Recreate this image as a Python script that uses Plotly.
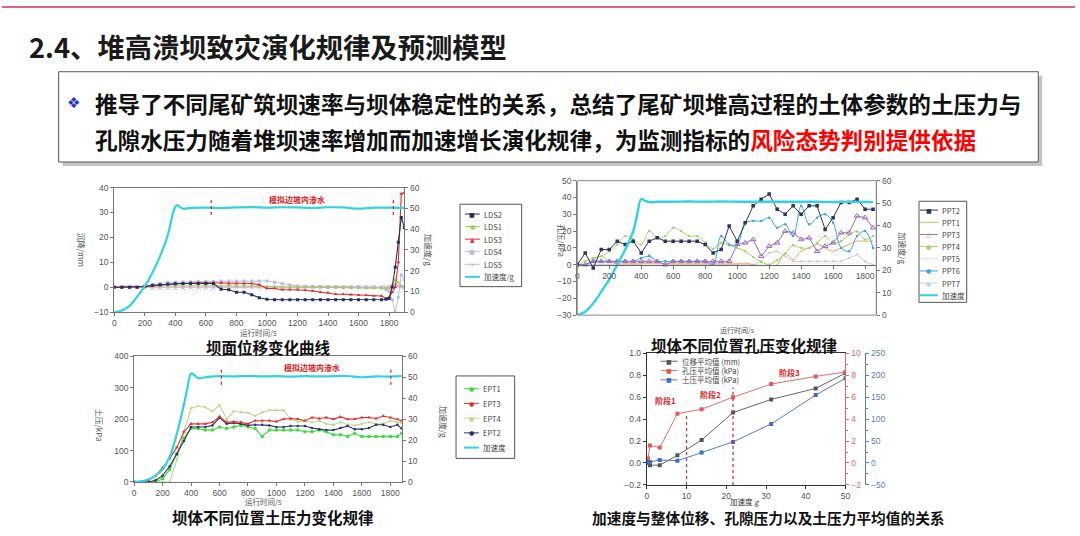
import plotly.graph_objects as go

W, H = 1080, 536
FONT = "Noto Sans CJK SC"
TICKFONT = dict(family="Liberation Sans, Noto Sans CJK SC", size=8.5, color="#555555")
RED_AX = "#e06a6a"
BLUE_AX = "#5a7fbf"
CYAN = "#2fd3e3"


def px(x):
    return x / W


def py(y):
    return 1 - y / H


# ---------------- data ----------------
time_ticks = [0, 200, 400, 600, 800, 1000, 1200, 1400, 1600, 1800]

# Chart A : dam-surface displacement (mm) + acceleration (g)
t_A = [0, 50, 100, 150, 200, 250, 300, 350, 400, 450, 500, 550, 600, 650, 700, 750, 800, 850,
       900, 950, 1000, 1050, 1100, 1150, 1200, 1250, 1300, 1350, 1400, 1450, 1500, 1550, 1600,
       1650, 1700, 1750, 1780, 1800, 1820, 1840, 1860, 1880, 1900]
LDS2 = [0, 0, 0, 0, 0.3, 0.8, 1.0, 1.2, 1.4, 1.5, 1.5, 1.5, 1.5, 1.5, -0.8, -1.0, -2.0, -2.0,
        -3.0, -4.2, -4.8, -5, -5, -5, -5, -5, -5, -5, -5, -5, -5, -5, -5, -5, -5, -5,
        -4.8, -4.5, 0, 8, 18, 28, 24]
LDS1 = [0, 0, 0, 0, 0.2, 0.4, 0.5, 0.6, 0.6, 0.6, 0.6, 0.6, 0.6, 0.6, 0.6, 0.6, 0.5, 0.5,
        0.5, 0.4, 0.3, 0.2, 0.1, 0, 0, 0, 0, 0, -0.2, -0.2, -0.3, -0.3, -0.3, -0.4, -0.4, -0.5,
        -0.5, -0.3, 1, 3, 2, 0.5, 0.2]
LDS3 = [0, 0, 0, 0, 0.2, 0.5, 0.8, 1.2, 1.5, 1.5, 1.8, 1.8, 1.8, 1.8, 1.8, 1.5, 1.5, 1.5,
        1.5, 1.0, -0.5, -0.5, -1.0, -1.0, -1.0, -1.2, -1.5, -2.0, -2.2, -2.8, -2.8, -3.0, -3.2,
        -3.2, -3.5, -3.5, -4.5, -4.0, -2.0, 0, 10, 37.5, 38]
LDS4 = [0, 0, 0, 0, 0.5, 1.0, 1.5, 2.0, 2.0, 2.2, 2.2, 2.3, 2.3, 2.3, 2.5, 2.5, 2.5, 2.5,
        2.5, 2.5, 2.5, 2.0, 1.5, 1.0, 0.5, 0.4, 0.3, 0.3, 0.3, 0.3, 0.2, 0.2, 0.2, 0.1, 0.1, 0,
        -1.0, -1.5, -5, -10, -4, 5, 3]
LDS5 = [0, 0, 0, 0, -0.2, -0.3, -0.3, -0.3, -0.3, -0.3, -0.2, -0.2, -0.2, -0.2, 0, 0, 0, 0,
        0, 0, 0, 0, 0, 0, 0, 0, 0, 0, 0, 0, 0, 0, 0, 0, 0, 0,
        0, 0, 0.5, 1, 0.5, 0, 0]
t_acc_A = [0, 50, 100, 150, 200, 250, 300, 350, 390, 410, 450, 500, 600, 700, 800, 900, 1000,
           1100, 1200, 1300, 1400, 1500, 1600, 1700, 1800, 1900]
acc_A = [0, 0.8, 3, 7.5, 12.5, 19, 27, 37, 49, 51.5, 49.8, 50.2, 50.3, 50.2, 50.4, 50.6, 50.3,
         50.5, 50.4, 50.2, 50.5, 50.4, 49.8, 50.3, 50.3, 50.2]
seep_A = [635, 1828]

# Chart B : pore pressure (kPa) + acceleration (g)
t_B = [0, 50, 100, 150, 200, 250, 300, 350, 400, 450, 500, 550, 600, 650, 700, 750, 800, 850,
       900, 950, 1000, 1050, 1100, 1150, 1200, 1250, 1300, 1350, 1400, 1450, 1500, 1550, 1600,
       1650, 1700, 1750, 1800, 1850]
PPT2 = [0, 7, -2, 9, 9, 14, 12, 14, 7, 14, 16, 14, 14, 14, 14, 14, 12, 7, 9, 23,
        14, 25, 35, 39, 42, 33, 30, 35, 30, 35, 35, 21, 28, 37, 37, 39, 33, 33]
PPT1 = [0, 0, 3, 5, 2, 0.5, 0.5, 0.5, 0.5, 0.5, 0.5, 0.5, 0.5, 0.5, 0.5, 0.5, 0.5, 0.5, 0.5, 0.5,
        0.5, 1, 0, -0.5, -0.5, 0, 7, 3, 8, 10, 12, 10, 8, 10, 12, 14, 14, 14]
PPT3 = [0, 0, 2, 2, 2, 2, 2, 2, 2, 2, 2, 0, 2, 2, 2, 2, 2, 2, 2, 2,
        12, 13, 15, 5, 11, 13, 20, 19, 15, 16, 8, 11, 13, 19, 19, 29, 28, 22]
PPT4 = [0, 2, 4, 5, 8, 12, 17, 15, 12, 20, 16, 17, 22, 20, 17, 17, 13, 9.5, 13, 11.5,
        10, 8, 4.6, 1.7, 0, 2.7, 6.6, 11.5, 10, 10, 13, 17, 13, 14, 17.7, 19.7, 15, 17]
PPT5 = [0, 0, 0, 1, 1, 1, 1, 1, 1, 1, 1, 1, 1, 1, 1, 1, 1, 1, 0, 0,
        0, 0, 0, 0, 1, 1, 1, 1, 1, 1, 1, 1, 1, 1, 1, 1, 1, 0]
PPT6 = [0, 0, 2, 2, 2, 2, 2, 2, 4, 5, 2, 2, 2, 2, 2, 2, 2, 0, 17, 12,
        12, 25, 26, 26, 28, 22, 24, 17, 35, 24, 28, 30, 25, 10, 8, 17, 20, 10]
PPT7 = [0, 0, 0, 0, 0, 0, 0, 0, 0, 6, 2, 0, 0, 0, 0, 0, 0, 0, 0, 0,
        0, 0, 0, 2, 7, 8, 5, 2, 2, 2, 2, 2, 2, 2, 4, 6, 2, 0]
t_acc_B = [0, 50, 100, 150, 200, 250, 300, 350, 375, 400, 425, 450, 500, 600, 700, 800, 900,
           1000, 1100, 1200, 1300, 1400, 1500, 1600, 1700, 1800, 1850]
acc_B = [0, 1.5, 5.3, 10.5, 15.8, 22.5, 29.3, 37.5, 45, 51.8, 51, 50.4, 50.6, 50.6, 50.7, 50.6,
         50.7, 50.6, 50.6, 50.6, 50.6, 50.6, 50.6, 50.5, 50.6, 50.5, 50.4]

# Chart C : earth pressure (kPa) + acceleration (g)
t_C = [0, 50, 100, 150, 200, 250, 300, 350, 400, 450, 500, 550, 600, 650, 700, 750, 800, 850,
       900, 950, 1000, 1050, 1100, 1150, 1200, 1250, 1300, 1350, 1400, 1450, 1500, 1550, 1600,
       1650, 1700, 1750, 1800, 1850, 1880]
EPT1 = [0, 0, 0, 0, 10, 40, 90, 140, 170, 170, 165, 165, 175, 170, 175, 180, 175, 170, 145, 165,
        165, 165, 165, 165, 160, 160, 165, 160, 150, 150, 145, 155, 145, 145, 145, 145, 145, 145, 155]
EPT3 = [0, 0, 5, 20, 45, 75, 110, 160, 185, 185, 185, 190, 208, 190, 192, 190, 185, 195, 195, 195,
        192, 200, 202, 200, 195, 205, 202, 205, 200, 207, 200, 200, 205, 205, 202, 210, 205, 200, 195]
EPT4 = [0, 0, 0, 0, 0, 0, 70, 160, 235, 242, 238, 225, 245, 200, 225, 222, 220, 210, 222, 228,
        228, 228, 200, 192, 195, 190, 195, 185, 182, 190, 182, 180, 185, 190, 185, 185, 195, 190, 188]
EPT2 = [0, 0, 0, 5, 20, 50, 88, 130, 175, 175, 175, 180, 205, 185, 188, 185, 180, 182, 182, 180,
        175, 175, 178, 178, 178, 172, 168, 165, 165, 172, 178, 168, 168, 172, 182, 182, 175, 182, 170]
t_acc_C = [0, 50, 100, 150, 200, 250, 300, 350, 375, 400, 425, 450, 500, 600, 700, 800, 900,
           1000, 1100, 1200, 1300, 1400, 1500, 1600, 1700, 1800, 1880]
acc_C = [0, 0.3, 1.2, 3, 6, 12, 23, 37, 45, 51.8, 51, 49.6, 50, 50.5, 50.4, 50.6, 50.4, 50.5,
         50.3, 50.5, 50.4, 50.5, 50.6, 50, 50.4, 50.3, 50.5]
seep_C = [613, 1804]

# Chart D : averages vs acceleration
acc_g = [0, 0.3, 0.8, 3.25, 7.7, 13.8, 21.7, 31.3, 42.5, 50]
disp_avg = [0.0, 0.0, -0.02, -0.02, 0.07, 0.21, 0.46, 0.58, 0.68, 0.82]
pore_avg = [0.1, 0.4, 1.6, 1.4, 4.5, 4.9, 6.0, 7.2, 7.9, 8.3]
earth_avg = [0, 2, 2, 7, 5, 24, 48, 89, 155, 193]
stage_bounds = [10, 21.7]
stage_labels = ["阶段1", "阶段2", "阶段3"]

# ---------------- figure ----------------
fig = go.Figure()


def add_series(x, y, xa, ya, color, width=1.0, symbol=None, msize=3, shape="linear", mline=None):
    mode = "lines+markers" if symbol else "lines"
    marker = dict(symbol=symbol or "circle", size=msize, color=color)
    if mline:
        marker["line"] = dict(color=color, width=1)
    fig.add_trace(go.Scatter(x=x, y=y, xaxis=xa, yaxis=ya, mode=mode,
                             line=dict(color=color, width=width, shape=shape),
                             marker=marker, showlegend=False, hoverinfo="skip"))


# A
add_series(t_A, LDS4, "x", "y", "#b4c2dc", 1, "square", 3)
add_series(t_A, LDS5, "x", "y", "#e0a0e0", 1, "x-thin-open", 4, mline=True)
add_series(t_A, LDS1, "x", "y", "#9bd05a", 1, "circle", 2.5)
add_series(t_A, LDS3, "x", "y", "#e8282a", 1.1, "triangle-up", 3.5)
add_series(t_A, LDS2, "x", "y", "#1f2f5f", 1.1, "square", 3)
add_series(t_acc_A, acc_A, "x", "y2", CYAN, 2.2, shape="spline")

# B
add_series(t_B, PPT5, "x2", "y3", "#ececec", 1)
add_series(t_B, PPT7, "x2", "y3", "#c8d2de", 1, "circle", 2.5)
add_series(t_B, PPT1, "x2", "y3", "#f4a460", 1, shape="spline")
add_series(t_B, PPT4, "x2", "y3", "#a4d46c", 1, "circle", 2.5, shape="spline")
add_series(t_B, PPT6, "x2", "y3", "#3aa6dc", 1, "circle", 2.5, shape="spline")
add_series(t_B, PPT3, "x2", "y3", "#9b6fc0", 1, "triangle-up-open", 5, mline=True)
add_series(t_B, PPT2, "x2", "y3", "#2a3560", 1, "square", 3.5)
add_series(t_acc_B, acc_B, "x2", "y4", CYAN, 2.4, shape="spline")

# C
add_series(t_C, EPT4, "x3", "y5", "#bcd98a", 1.1, "circle", 2.5)
add_series(t_C, EPT1, "x3", "y5", "#3ddc3d", 1.1, "square", 3)
add_series(t_C, EPT2, "x3", "y5", "#2c3366", 1.1, "circle", 2.5)
add_series(t_C, EPT3, "x3", "y5", "#e83030", 1.1, "triangle-up", 3.5)
add_series(t_acc_C, acc_C, "x3", "y6", CYAN, 2.2, shape="spline")

# D
add_series(acc_g, disp_avg, "x4", "y7", "#555555", 0.9, "square", 4)
add_series(acc_g, pore_avg, "x4", "y8", "#e05a5a", 0.9, "square", 4)
add_series(acc_g, earth_avg, "x4", "y9", "#3f6fc0", 0.9, "square", 4)


def ax(**kw):
    base = dict(showgrid=False, zeroline=False, showline=True, linecolor="#777777", linewidth=1,
                ticks="outside", ticklen=3, tickcolor="#777777", tickfont=TICKFONT, fixedrange=True)
    base.update(kw)
    return base


domB_y = [py(316), py(179)]
x2_pos = domB_y[0] + (0 - (-30)) / (50 - (-30)) * (domB_y[1] - domB_y[0])

fig.update_layout(
    width=W, height=H, autosize=False, margin=dict(l=0, r=0, t=0, b=0),
    paper_bgcolor="white", plot_bgcolor="white", showlegend=False,
    xaxis=ax(domain=[px(113), px(405)], anchor="y", range=[0, 1900], tickvals=time_ticks, mirror=True),
    yaxis=ax(domain=[py(313), py(186)], anchor="x", range=[-10, 40], dtick=10),
    yaxis2=ax(overlaying="y", side="right", anchor="x", range=[0, 60], dtick=10),
    xaxis2=ax(domain=[px(579), px(880)], anchor="free", position=x2_pos, range=[0, 1870],
              tickvals=time_ticks, linecolor="#666666"),
    yaxis3=ax(domain=domB_y, anchor="x2", range=[-30, 50], dtick=10),
    yaxis4=ax(overlaying="y3", side="right", anchor="x2", range=[0, 60], dtick=10),
    xaxis3=ax(domain=[px(133), px(403)], anchor="y5", range=[0, 1885], tickvals=time_ticks, mirror=True),
    yaxis5=ax(domain=[py(486), py(358)], anchor="x3", range=[0, 400], dtick=100),
    yaxis6=ax(overlaying="y5", side="right", anchor="x3", range=[0, 60], dtick=10),
    xaxis4=ax(domain=[px(649), px(849)], anchor="y7", range=[0, 50], dtick=10, mirror=True,
              linecolor="#333333", tickcolor="#333333"),
    yaxis7=ax(domain=[py(489), py(355)], anchor="x4", range=[-0.2, 1.0], dtick=0.2, tickformat=".1f",
              linecolor="#333333", tickcolor="#333333"),
    yaxis8=ax(overlaying="y7", side="right", anchor="x4", range=[-2, 10], dtick=2,
              linecolor=RED_AX, tickcolor=RED_AX, tickfont=dict(TICKFONT, color=RED_AX),
              minor=dict(ticks="outside", ticklen=2, tickcolor=RED_AX, dtick=1)),
    yaxis9=ax(overlaying="y7", side="right", anchor="free", position=px(869), range=[-50, 250], dtick=50,
              linecolor=BLUE_AX, tickcolor=BLUE_AX, tickfont=dict(TICKFONT, color=BLUE_AX),
              minor=dict(ticks="outside", ticklen=2, tickcolor=BLUE_AX, dtick=25)),
)

shapes = []
annos = []


def line_px(x0, y0, x1, y1, color, width=1, dash="solid"):
    shapes.append(dict(type="line", xref="paper", yref="paper", x0=px(x0), y0=py(y0), x1=px(x1), y1=py(y1),
                       line=dict(color=color, width=width, dash=dash)))


def rect_px(x0, y0, x1, y1, color, fill="rgba(0,0,0,0)", width=1):
    shapes.append(dict(type="rect", xref="paper", yref="paper", x0=px(x0), y0=py(y1), x1=px(x1), y1=py(y0),
                       line=dict(color=color, width=width), fillcolor=fill))


def text_px(x, y, text, size, color="#333333", xanchor="center", angle=0, family=FONT):
    annos.append(dict(xref="paper", yref="paper", x=px(x), y=py(y), text=text, showarrow=False,
                      xanchor=xanchor, yanchor="middle", textangle=angle, borderpad=0,
                      font=dict(family=family, size=size, color=color)))


# header
line_px(0, 2, W, 2, "#e8607a", 2)
text_px(26, 42, "<b>2.4、堆高溃坝致灾演化规律及预测模型</b>", 27.3, "#1a1a1a", "left")
shapes.append(dict(type="rect", xref="paper", yref="paper", x0=px(61), y0=py(164), x1=px(1047), y1=py(72),
                   line=dict(width=0), fillcolor="#c4c4c4"))
rect_px(57, 68, 1043, 160, "#555555", "white", 1)
text_px(72, 100, "❖", 15, "#2233cc", "center", family="DejaVu Sans")
text_px(93, 100, "<b>推导了不同尾矿筑坝速率与坝体稳定性的关系，总结了尾矿坝堆高过程的土体参数的土压力与</b>",
        22.6, "#111111", "left")
text_px(93, 137, "<b>孔隙水压力随着堆坝速率增加而加速增长演化规律，为监测指标的"
        "<span style='color:#ff0000'>风险态势判别提供依据</span></b>", 22.6, "#111111", "left")

# frame for chart B
shapes.append(dict(type="rect", xref="x2 domain", yref="y3 domain", x0=0, y0=0, x1=1, y1=1,
                   line=dict(color="#888888", width=1)))

# seepage markers and annotations
for t in seep_A:
    shapes.append(dict(type="line", xref="x", yref="paper", x0=t, x1=t, y0=py(214), y1=py(197),
                       line=dict(color="#e03030", width=1.3, dash="dot")))
for t in seep_C:
    shapes.append(dict(type="line", xref="x3", yref="paper", x0=t, x1=t, y0=py(387), y1=py(370),
                       line=dict(color="#e03030", width=1.3, dash="dot")))
text_px(297, 198, "<b>模拟边坡内渗水</b>", 8, "#e02020")
text_px(312, 369, "<b>模拟边坡内渗水</b>", 8, "#e02020")

for xb, ytop in zip(stage_bounds, [417, 390]):
    shapes.append(dict(type="line", xref="x4", yref="paper", x0=xb, x1=xb, y0=py(489), y1=py(ytop),
                       line=dict(color="#e03030", width=1.3, dash="dot")))
for lab, (lx, ly) in zip(stage_labels, [(668, 403), (713, 397), (793, 374)]):
    text_px(lx, ly, "<b>" + lab + "</b>", 8, "#e02020")

# axis titles
AXC = "#555555"
text_px(80, 250, "沉降/mm", 8, AXC, angle=90)
text_px(429, 250, "加速度/g", 8, AXC, angle=90)
text_px(258, 334, "运行时间/s", 7.5, AXC)
text_px(563, 240, "孔压/kPa", 8, AXC, angle=90)
text_px(906, 248, "加速度/g", 8, AXC, angle=90)
text_px(740, 331, "运行时间/s", 7, AXC)
text_px(99, 428, "土压/kPa", 8, AXC, angle=90)
text_px(445, 425, "加速度/g", 8, AXC, angle=90)
text_px(263, 506, "运行时间/s", 7.5, AXC)
text_px(748, 506, "加速度 <i>g</i>", 7.5, "#333333")

# captions
text_px(268, 349, "<b>坝面位移变化曲线</b>", 15.5, "#111111")
text_px(747, 346, "<b>坝体不同位置孔压变化规律</b>", 15.5, "#111111")
text_px(273, 522, "<b>坝体不同位置土压力变化规律</b>", 15.5, "#111111")
text_px(771, 522, "<b>加速度与整体位移、孔隙压力以及土压力平均值的关系</b>", 14.7, "#111111")


# legends (drawn manually)
def legend(box, lx0, lx1, tx, y0, step, entries):
    if box:
        rect_px(*box, "#555555", "white", 1)
    for i, (name, color, glyph, lw) in enumerate(entries):
        y = y0 + i * step
        line_px(lx0, y, lx1, y, color, lw)
        if glyph:
            text_px((lx0 + lx1) / 2, y, glyph, 6, color, family="DejaVu Sans")
        text_px(tx, y, name, 7.5, "#444444", "left")


legend((461, 203, 523, 287), 466, 481, 484, 213, 12.8, [
    ("LDS2", "#1f2f5f", "■", 1), ("LDS1", "#9bd05a", "●", 1), ("LDS3", "#e8282a", "▲", 1),
    ("LDS4", "#b4c2dc", "■", 1), ("LDS5", "#e0a0e0", "×", 1), ("加速度/g", CYAN, None, 2)])
legend((923, 200, 971, 303), 924, 942, 945, 209, 12.4, [
    ("PPT2", "#2a3560", "■", 1), ("PPT1", "#f4a460", None, 1), ("PPT3", "#9b6fc0", "△", 1),
    ("PPT4", "#a4d46c", "●", 1), ("PPT5", "#dddddd", None, 1), ("PPT6", "#3aa6dc", "●", 1),
    ("PPT7", "#c8d2de", "●", 1), ("加速度", CYAN, None, 2)])
legend((457, 378, 516, 462), 465, 480, 483, 391, 15, [
    ("EPT1", "#3ddc3d", "●", 1), ("EPT3", "#e83030", "●", 1), ("EPT4", "#bcd98a", "●", 1),
    ("EPT2", "#2c3366", "●", 1), ("加速度", CYAN, None, 2)])
legend(None, 663, 680, 683, 363, 9.5, [
    ("位移平均值 (mm)", "#555555", "■", 0.9), ("孔压平均值 (kPa)", "#e05a5a", "■", 0.9),
    ("土压平均值 (kPa)", "#3f6fc0", "■", 0.9)])

fig.update_layout(shapes=shapes, annotations=annos)
fig.write_html("out.html", config={"displayModeBar": False, "staticPlot": True},
               post_script="document.body.style.margin='0';document.body.style.overflow='hidden';")
